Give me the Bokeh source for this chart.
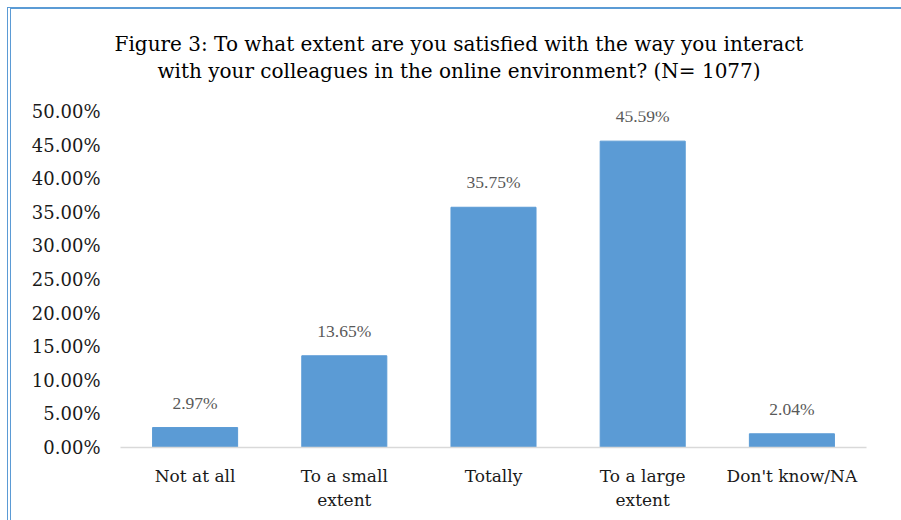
from bokeh.plotting import figure
from bokeh.layouts import column
from bokeh.models import NumeralTickFormatter, ColumnDataSource, LabelSet, FixedTicker, Div
from bokeh.embed import file_html
from bokeh.resources import INLINE

categories = ["Not at all", "To a small\nextent", "Totally", "To a large\nextent", "Don't know/NA"]
values = [2.97, 13.65, 35.75, 45.59, 2.04]
title_lines = ["Figure 3: To what extent are you satisfied with the way you interact",
               "with your colleagues in the online environment? (N= 1077)"]
y_ticks = [0, 5, 10, 15, 20, 25, 30, 35, 40, 45, 50]

FONT = "DejaVu Serif"
FW, BL, BR = 746, 109, 35
W = FW + BL + BR

# ---- title, centred on the whole chart
title_html = ('<div style="box-sizing:content-box;width:%dpx;height:68px;text-align:center;'
              'font-family:\'%s\';font-size:20px;line-height:27px;padding-top:22px;'
              'padding-left:6px;color:#000000;white-space:nowrap;overflow:visible;">%s</div>'
              % (W - 6, FONT, "<br>".join(title_lines)))
th = Div(text=title_html, width=W, height=90, margin=0)

# ---- chart
src = ColumnDataSource(dict(
    cat=categories,
    frac=[v / 100 for v in values],
    lab=["%.2f%%" % v for v in values],
))

p = figure(x_range=categories, y_range=(0, 0.5),
           frame_width=FW, frame_height=336,
           min_border_left=BL, min_border_right=BR,
           min_border_top=12, min_border_bottom=73,
           output_backend="svg", toolbar_location=None,
           background_fill_color="white", border_fill_color="white")

p.vbar(x="cat", top="frac", width=0.57, source=src, color="#5B9BD5")
p.add_layout(LabelSet(x="cat", y="frac", text="lab", source=src, y_offset=19,
                      text_align="center", text_baseline="alphabetic",
                      text_font=FONT, text_font_size="17.5px", text_color="#595959"))

p.yaxis.ticker = FixedTicker(ticks=[v / 100 for v in y_ticks])
p.yaxis.formatter = NumeralTickFormatter(format="0.00%")
p.yaxis.axis_line_color = None
p.yaxis.major_tick_line_color = None
p.yaxis.minor_tick_line_color = None
p.yaxis.major_label_standoff = 14
p.xaxis.axis_line_color = "#D9D9D9"
p.xaxis.axis_line_width = 1.5
p.xaxis.major_tick_line_color = None
p.xaxis.major_label_standoff = 12
for ax in (p.xaxis, p.yaxis):
    ax.major_label_text_font = FONT
    ax.major_label_text_color = "#1a1a1a"
p.yaxis.major_label_text_font_size = "18px"
p.xaxis.major_label_text_font_size = "17px"
p.xgrid.grid_line_color = None
p.ygrid.grid_line_color = None
p.outline_line_color = None
p.x_range.range_padding = 0

layout = column(th, p, spacing=0)
layout.styles = {"border-top": "2px solid #5B9BD5", "border-left": "4px double #5B9BD5",
                 "margin-left": "7px", "margin-top": "7px", "background-color": "white"}

open("out.html", "w").write(file_html(layout, INLINE))
